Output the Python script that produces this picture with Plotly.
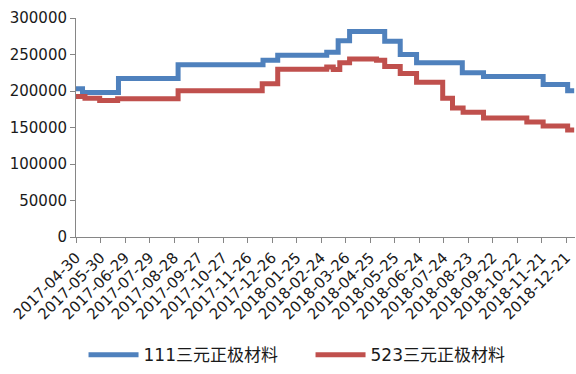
import plotly.graph_objects as go

# Price change points (date the new price takes effect, yuan/ton)
ncm111_dates = [
    "2017-04-30", "2017-05-08", "2017-06-21", "2017-09-02", "2017-12-15",
    "2018-01-02", "2018-03-03", "2018-03-17", "2018-03-31", "2018-05-13",
    "2018-06-01", "2018-06-21", "2018-08-16", "2018-09-11", "2018-11-23",
    "2018-12-23", "2018-12-31",
]
ncm111_values = [
    203000, 198000, 217000, 236000, 242000,
    249000, 253000, 269000, 281500, 268000,
    250000, 238800, 225000, 219800, 209000,
    200500, 200500,
]

ncm523_dates = [
    "2017-04-30", "2017-05-11", "2017-05-29", "2017-06-20", "2017-09-02",
    "2017-12-14", "2018-01-02", "2018-03-03", "2018-03-11", "2018-03-19",
    "2018-03-31", "2018-05-03", "2018-05-13", "2018-06-01", "2018-06-21",
    "2018-07-23", "2018-08-04", "2018-08-17", "2018-09-11", "2018-11-03",
    "2018-11-23", "2018-12-23", "2018-12-31",
]
ncm523_values = [
    192500, 190000, 187000, 189500, 200500,
    210000, 229700, 233000, 229500, 238800,
    244000, 242000, 233500, 224000, 212000,
    190000, 176700, 171000, 163100, 157500,
    152000, 146500, 146500,
]

series_names = ["111三元正极材料", "523三元正极材料"]
series_colors = ["#4F81BD", "#C0504D"]

y_ticks = [0, 50000, 100000, 150000, 200000, 250000, 300000]

FONT = "DejaVu Sans, Noto Sans CJK SC, sans-serif"
AXIS_GRAY = "#868686"
DAY_MS = 86400000

fig = go.Figure()
for name, color, xs, ys in [
    (series_names[0], series_colors[0], ncm111_dates, ncm111_values),
    (series_names[1], series_colors[1], ncm523_dates, ncm523_values),
]:
    fig.add_trace(go.Scatter(
        x=xs, y=ys, name=name, mode="lines",
        line=dict(color=color, width=5, shape="hv"),
    ))

fig.update_layout(
    width=576, height=374,
    margin=dict(l=76, r=1, t=18, b=134),
    paper_bgcolor="white", plot_bgcolor="white",
    font=dict(family=FONT, size=15, color="#1a1a1a"),
    showlegend=True,
    legend=dict(
        orientation="h", x=0.47, xanchor="center", y=-0.54, yanchor="middle",
        font=dict(size=17), itemwidth=50, entrywidth=162,
    ),
)

fig.update_xaxes(
    type="date",
    range=["2017-04-30", "2019-01-01"],
    tick0="2017-04-30", dtick=30 * DAY_MS, tickformat="%Y-%m-%d",
    tickangle=-45,
    showgrid=False, zeroline=False,
    showline=True, linecolor=AXIS_GRAY, linewidth=1,
    ticks="outside", ticklen=5, tickcolor=AXIS_GRAY,
)
fig.update_yaxes(
    range=[0, 300000], tickvals=y_ticks,
    ticktext=[str(v) for v in y_ticks],
    showgrid=False, zeroline=False,
    showline=True, linecolor=AXIS_GRAY, linewidth=1,
    ticks="outside", ticklen=5, tickcolor=AXIS_GRAY,
)

fig.write_html("out.html")
